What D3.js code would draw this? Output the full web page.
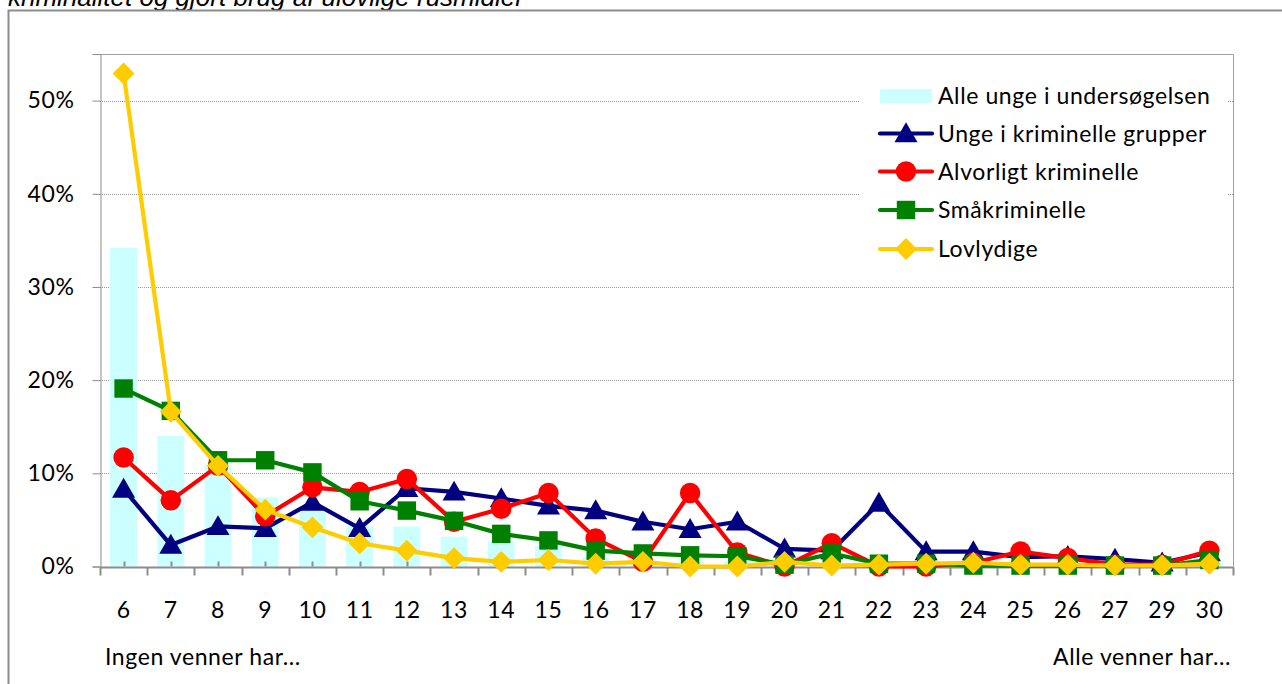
<!DOCTYPE html>
<html><head><meta charset="utf-8">
<script src="https://cdn.jsdelivr.net/npm/d3@7/dist/d3.min.js"></script>
<style>
html,body{margin:0;padding:0;background:#fff;overflow:hidden;}
svg{display:block;}
</style></head>
<body>
<svg id="chart" width="1282" height="684"></svg>
<script>
const categories = ["6","7","8","9","10","11","12","13","14","15","16","17","18","19","20","21","22","23","24","25","26","27","29","30"];
const alleUnge   = [34.2,14.0,10.9,7.4,6.2,4.3,4.3,3.2,2.7,2.2,1.0,0.8,0.5,0.5,0.3,0.3,0.2,0.2,0.2,0.2,0.2,0.1,0.1,0.4];
const ungeGrupper= [8.3,2.3,4.3,4.1,6.9,4.1,8.4,8.0,7.3,6.5,6.0,4.8,4.0,4.8,1.9,1.7,6.8,1.6,1.6,1.0,1.1,0.8,0.4,1.5];
const alvorligt  = [11.7,7.1,10.8,5.4,8.5,8.0,9.4,4.8,6.2,7.9,3.0,0.5,7.9,1.5,0.0,2.5,0.0,0.0,0.4,1.6,0.9,0.2,0.2,1.7];
const smaa       = [19.1,16.7,11.4,11.4,10.1,7.0,6.0,4.9,3.5,2.8,1.7,1.4,1.2,1.1,0.2,1.4,0.3,0.3,0.1,0.1,0.1,0.1,0.1,0.7];
const lovlydige  = [52.9,16.6,10.8,6.1,4.2,2.5,1.7,0.9,0.5,0.7,0.3,0.5,0.0,0.0,0.5,0.1,0.2,0.3,0.4,0.2,0.2,0.1,0.1,0.3];
const yTicks = [0,10,20,30,40,50];
const seriesNames = ["Alle unge i undersøgelsen","Unge i kriminelle grupper","Alvorligt kriminelle","Småkriminelle","Lovlydige"];
const titleText = "kriminalitet og gjort brug af ulovlige rusmidler";
const leftNote = "Ingen venner har...";
const rightNote = "Alle venner har...";

const FONT = "Lato, 'Open Sans', sans-serif";
const FS = 23, LS = "0.6px";
const svg = d3.select("#chart");
const L = 100, R = 1233, T = 54, B = 566.5;

const x = d3.scaleBand().domain(categories).range([L, R]).paddingInner(0.43).paddingOuter(0.215);
const xc = d3.scalePoint().domain(categories).range([L, R]).padding(0.5);
const y = d3.scaleLinear().domain([0, 55]).range([B, T]);

// title (cut off at top)
svg.append("text").attr("x", 8).attr("y", 5.5)
  .attr("font-family", "'Liberation Sans', Arial, sans-serif").attr("font-style", "italic")
  .attr("font-size", 26).attr("fill", "#000").text(titleText);

// outer chart border
svg.append("rect").attr("x", 8.5).attr("y", 10.5).attr("width", 1400).attr("height", 800)
  .attr("fill", "none").attr("stroke", "#8c8c8c").attr("stroke-width", 2);

// plot border (top/right)
svg.append("path").attr("d", `M${L},${T+0.5}H${R+0.5}V${B}`)
  .attr("fill", "none").attr("stroke", "#a0a0a0").attr("stroke-width", 1);

// gridlines
svg.append("g").selectAll("line").data(yTicks.filter(d => d > 0)).join("line")
  .attr("x1", L).attr("x2", R).attr("y1", d => Math.round(y(d)) + 0.5).attr("y2", d => Math.round(y(d)) + 0.5)
  .attr("stroke", "#9a9a9a").attr("stroke-width", 1).attr("stroke-dasharray", "1,1");

// y axis
const yAxis = d3.axisLeft(y).tickValues(yTicks).tickFormat(d => d + "%").tickSize(8).tickPadding(18);
const gy = svg.append("g").attr("transform", `translate(${L + 0.5},0)`).call(yAxis);
gy.select(".domain").attr("stroke", "#8c8c8c");
gy.selectAll(".tick line").attr("stroke", "#8c8c8c");
gy.selectAll(".tick text").attr("font-family", FONT).attr("font-size", FS).attr("letter-spacing", LS).attr("fill", "#000");

// bars
svg.append("g").selectAll("rect").data(categories).join("rect")
  .attr("x", d => x(d)).attr("width", x.bandwidth())
  .attr("y", (d, i) => y(alleUnge[i])).attr("height", (d, i) => B - y(alleUnge[i]))
  .attr("fill", "#ccffff");

// x axis: major ticks at boundaries (down), minor at category centres (up)
const step = xc.step();
const boundaries = d3.range(categories.length + 1).map(i => L + i * step);
const gx = svg.append("g");
gx.append("line").attr("x1", L).attr("x2", R + 1).attr("y1", B + 1).attr("y2", B + 1)
  .attr("stroke", "#8c8c8c").attr("stroke-width", 2);
gx.selectAll("line.maj").data(boundaries).join("line").attr("class", "maj")
  .attr("x1", d => Math.round(d) + 0.5).attr("x2", d => Math.round(d) + 0.5)
  .attr("y1", B + 1).attr("y2", B + 9).attr("stroke", "#8c8c8c").attr("stroke-width", 2);
gx.selectAll("line.min").data(categories).join("line").attr("class", "min")
  .attr("x1", d => Math.round(xc(d)) + 0.5).attr("x2", d => Math.round(xc(d)) + 0.5)
  .attr("y1", B - 5).attr("y2", B).attr("stroke", "#8c8c8c").attr("stroke-width", 2);
gx.selectAll("text").data(categories).join("text")
  .attr("x", d => xc(d)).attr("y", 618).attr("text-anchor", "middle")
  .attr("font-family", FONT).attr("font-size", FS).attr("letter-spacing", LS).attr("fill", "#000").text(d => d);

svg.append("text").attr("x", 105).attr("y", 665).attr("font-family", FONT).attr("font-size", FS).attr("letter-spacing", LS).text(leftNote);
svg.append("text").attr("x", 1231).attr("y", 665).attr("text-anchor", "end").attr("font-family", FONT).attr("font-size", FS).attr("letter-spacing", LS).text(rightNote);

// marker shapes
const sym = {
  triangle: d3.symbol().type(d3.symbolTriangle).size(230),
  circle: d3.symbol().type(d3.symbolCircle).size(330),
  square: d3.symbol().type(d3.symbolSquare).size(340),
  diamond: d3.symbol().type(d3.symbolSquare).size(240)
};
const lineSeries = [
  {name: seriesNames[1], values: ungeGrupper, color: "#000080", shape: "triangle"},
  {name: seriesNames[2], values: alvorligt, color: "#ff0000", shape: "circle"},
  {name: seriesNames[3], values: smaa, color: "#008000", shape: "square"},
  {name: seriesNames[4], values: lovlydige, color: "#ffcc00", shape: "diamond"}
];
const markerTransform = (shape, cx, cy) =>
  `translate(${cx},${cy + (shape === "triangle" ? 2 : 0)})` + (shape === "diamond" ? " rotate(45)" : "");
const lineGen = d3.line().x((d, i) => xc(categories[i])).y(d => y(d));
lineSeries.forEach(s => {
  const g = svg.append("g");
  g.append("path").attr("d", lineGen(s.values)).attr("fill", "none")
    .attr("stroke", s.color).attr("stroke-width", 4.2).attr("stroke-linejoin", "round");
  g.selectAll("path.m").data(s.values).join("path").attr("class", "m")
    .attr("d", sym[s.shape])
    .attr("transform", (d, i) => markerTransform(s.shape, xc(categories[i]), y(d)))
    .attr("fill", s.color);
});

// legend
const lg = svg.append("g");
lg.append("rect").attr("x", 860).attr("y", 76).attr("width", 368).attr("height", 192).attr("fill", "#fff");
const rowY = [96, 133.5, 171.5, 210, 249];
lg.append("rect").attr("x", 880).attr("y", rowY[0] - 7).attr("width", 52).attr("height", 14).attr("fill", "#ccffff");
lineSeries.forEach((s, i) => {
  const yy = rowY[i + 1];
  lg.append("line").attr("x1", 880).attr("x2", 932).attr("y1", yy).attr("y2", yy)
    .attr("stroke", s.color).attr("stroke-width", 4.2).attr("stroke-linecap", "round");
  lg.append("path").attr("d", sym[s.shape]).attr("fill", s.color)
    .attr("transform", markerTransform(s.shape, 906, yy));
});
lg.selectAll("text").data(seriesNames).join("text")
  .attr("x", 938).attr("y", (d, i) => rowY[i] + 8).attr("font-family", FONT).attr("font-size", FS)
  .attr("letter-spacing", LS).attr("fill", "#000").text(d => d);
</script>
</body></html>
